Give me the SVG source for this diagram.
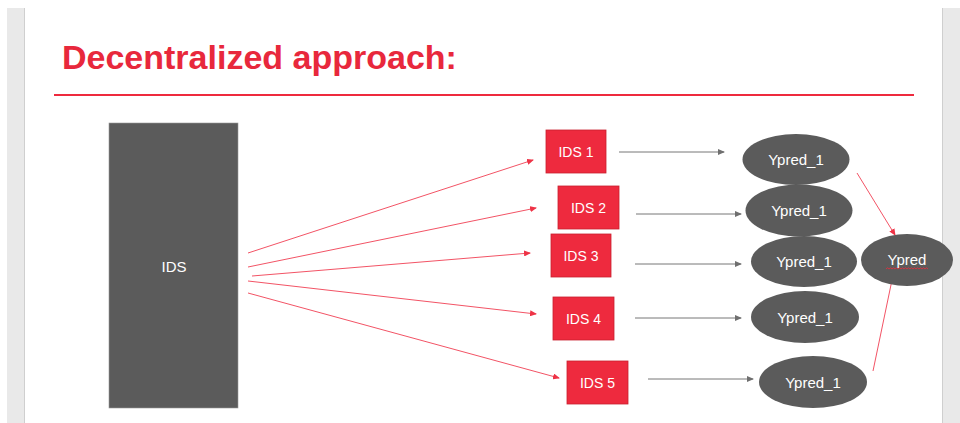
<svg xmlns="http://www.w3.org/2000/svg" width="960" height="423" viewBox="0 0 960 423">
<defs>
<marker id="ar" markerWidth="7" markerHeight="6" refX="6" refY="3" orient="auto" markerUnits="userSpaceOnUse">
<path d="M0,0 L7,3 L0,6 Z" fill="#EE3346"/>
</marker>
<marker id="ag" markerWidth="7" markerHeight="6" refX="6" refY="3" orient="auto" markerUnits="userSpaceOnUse">
<path d="M0,0 L7,3 L0,6 Z" fill="#6f6f6f"/>
</marker>
</defs>
<style>
.strip{fill:#e9e9e9}
.edge{stroke:#cfcfcf;stroke-width:1}
.title{font-family:"Liberation Sans",Arial,sans-serif;font-weight:bold;font-size:34px;fill:#E8283C}
.lbl{font-family:"Liberation Sans",Arial,sans-serif;font-size:14px;fill:#ffffff;text-anchor:middle}
.el{font-size:15px}
.big{fill:#5b5b5b;stroke:#9a9a9a;stroke-width:0.6}
.box{fill:#EE2A3E;stroke:#c8202f;stroke-width:0.8}
.ell{fill:#5b5b5b}
.rl{stroke:#F04053;stroke-width:0.9;fill:none}
.gl{stroke:#777777;stroke-width:1;fill:none}
</style>
<rect width="960" height="423" fill="#ffffff"/>
<rect class="strip" x="7" y="8" width="18" height="415"/>
<line class="edge" x1="24.5" y1="8" x2="24.5" y2="423"/>
<rect class="strip" x="942" y="8" width="18" height="415"/>
<line class="edge" x1="942.5" y1="8" x2="942.5" y2="423"/>
<text class="title" x="62" y="69">Decentralized approach:</text>
<line x1="54" y1="95" x2="914" y2="95" stroke="#EE2A3E" stroke-width="2"/>
<g id="connectors">
<line class="rl" x1="248" y1="253" x2="533" y2="160" marker-end="url(#ar)"/>
<line class="rl" x1="248" y1="267" x2="536" y2="208" marker-end="url(#ar)"/>
<line class="rl" x1="252" y1="276" x2="530" y2="253" marker-end="url(#ar)"/>
<line class="rl" x1="248" y1="281" x2="536" y2="314" marker-end="url(#ar)"/>
<line class="rl" x1="248" y1="293" x2="559" y2="378" marker-end="url(#ar)"/>
<line class="gl" x1="619" y1="152" x2="724" y2="152" marker-end="url(#ag)"/>
<line class="gl" x1="636" y1="214" x2="741" y2="214" marker-end="url(#ag)"/>
<line class="gl" x1="635" y1="264" x2="741" y2="264" marker-end="url(#ag)"/>
<line class="gl" x1="635" y1="318" x2="741" y2="318" marker-end="url(#ag)"/>
<line class="gl" x1="648" y1="379" x2="753" y2="379" marker-end="url(#ag)"/>
<line class="rl" x1="857" y1="173" x2="895" y2="235" marker-end="url(#ar)"/>
<line class="rl" x1="873" y1="371" x2="892" y2="280"/>
</g>
<g id="ids">
<rect class="big" x="109" y="123" width="129" height="285"/>
<text class="lbl el" x="174" y="272" fill="#f2f2f2">IDS</text>
</g>
<g id="ids1"><rect class="box" x="546" y="130" width="60" height="43"/><text class="lbl" x="576" y="156.5">IDS 1</text></g>
<g id="ids2"><rect class="box" x="558" y="186" width="61" height="43"/><text class="lbl" x="588.5" y="212.5">IDS 2</text></g>
<g id="ids3"><rect class="box" x="551" y="234" width="60" height="43"/><text class="lbl" x="581" y="260.5">IDS 3</text></g>
<g id="ids4"><rect class="box" x="553" y="297" width="61" height="43"/><text class="lbl" x="583.5" y="323.5">IDS 4</text></g>
<g id="ids5"><rect class="box" x="567" y="361" width="61" height="43"/><text class="lbl" x="597.5" y="387.5">IDS 5</text></g>
<g id="ypred1a"><ellipse class="ell" cx="796" cy="159.5" rx="53.5" ry="25.5"/><text class="lbl el" x="796" y="165">Ypred_1</text></g>
<g id="ypred1b"><ellipse class="ell" cx="799" cy="210.5" rx="53.5" ry="26"/><text class="lbl el" x="799" y="216">Ypred_1</text></g>
<g id="ypred1c"><ellipse class="ell" cx="804" cy="261.5" rx="53" ry="25.5"/><text class="lbl el" x="804" y="267">Ypred_1</text></g>
<g id="ypred1d"><ellipse class="ell" cx="805" cy="317" rx="54" ry="26"/><text class="lbl el" x="805" y="322.5">Ypred_1</text></g>
<g id="ypred1e"><ellipse class="ell" cx="813" cy="382" rx="54" ry="26"/><text class="lbl el" x="813" y="387.5">Ypred_1</text></g>
<g id="ypred"><ellipse class="ell" cx="907" cy="260" rx="46" ry="26"/><text class="lbl el" x="907" y="265">Ypred</text>
<path d="M886,269 l1.5,-1.2 l1.5,1.2 l1.5,-1.2 l1.5,1.2 l1.5,-1.2 l1.5,1.2 l1.5,-1.2 l1.5,1.2 l1.5,-1.2 l1.5,1.2 l1.5,-1.2 l1.5,1.2 l1.5,-1.2 l1.5,1.2 l1.5,-1.2 l1.5,1.2 l1.5,-1.2 l1.5,1.2 l1.5,-1.2 l1.5,1.2 l1.5,-1.2 l1.5,1.2 l1.5,-1.2 l1.5,1.2 l1.5,-1.2 l1.5,1.2 l1.5,-1.2 l1.5,1.2" fill="none" stroke="#E0303F" stroke-width="0.9"/>
</g>
</svg>
